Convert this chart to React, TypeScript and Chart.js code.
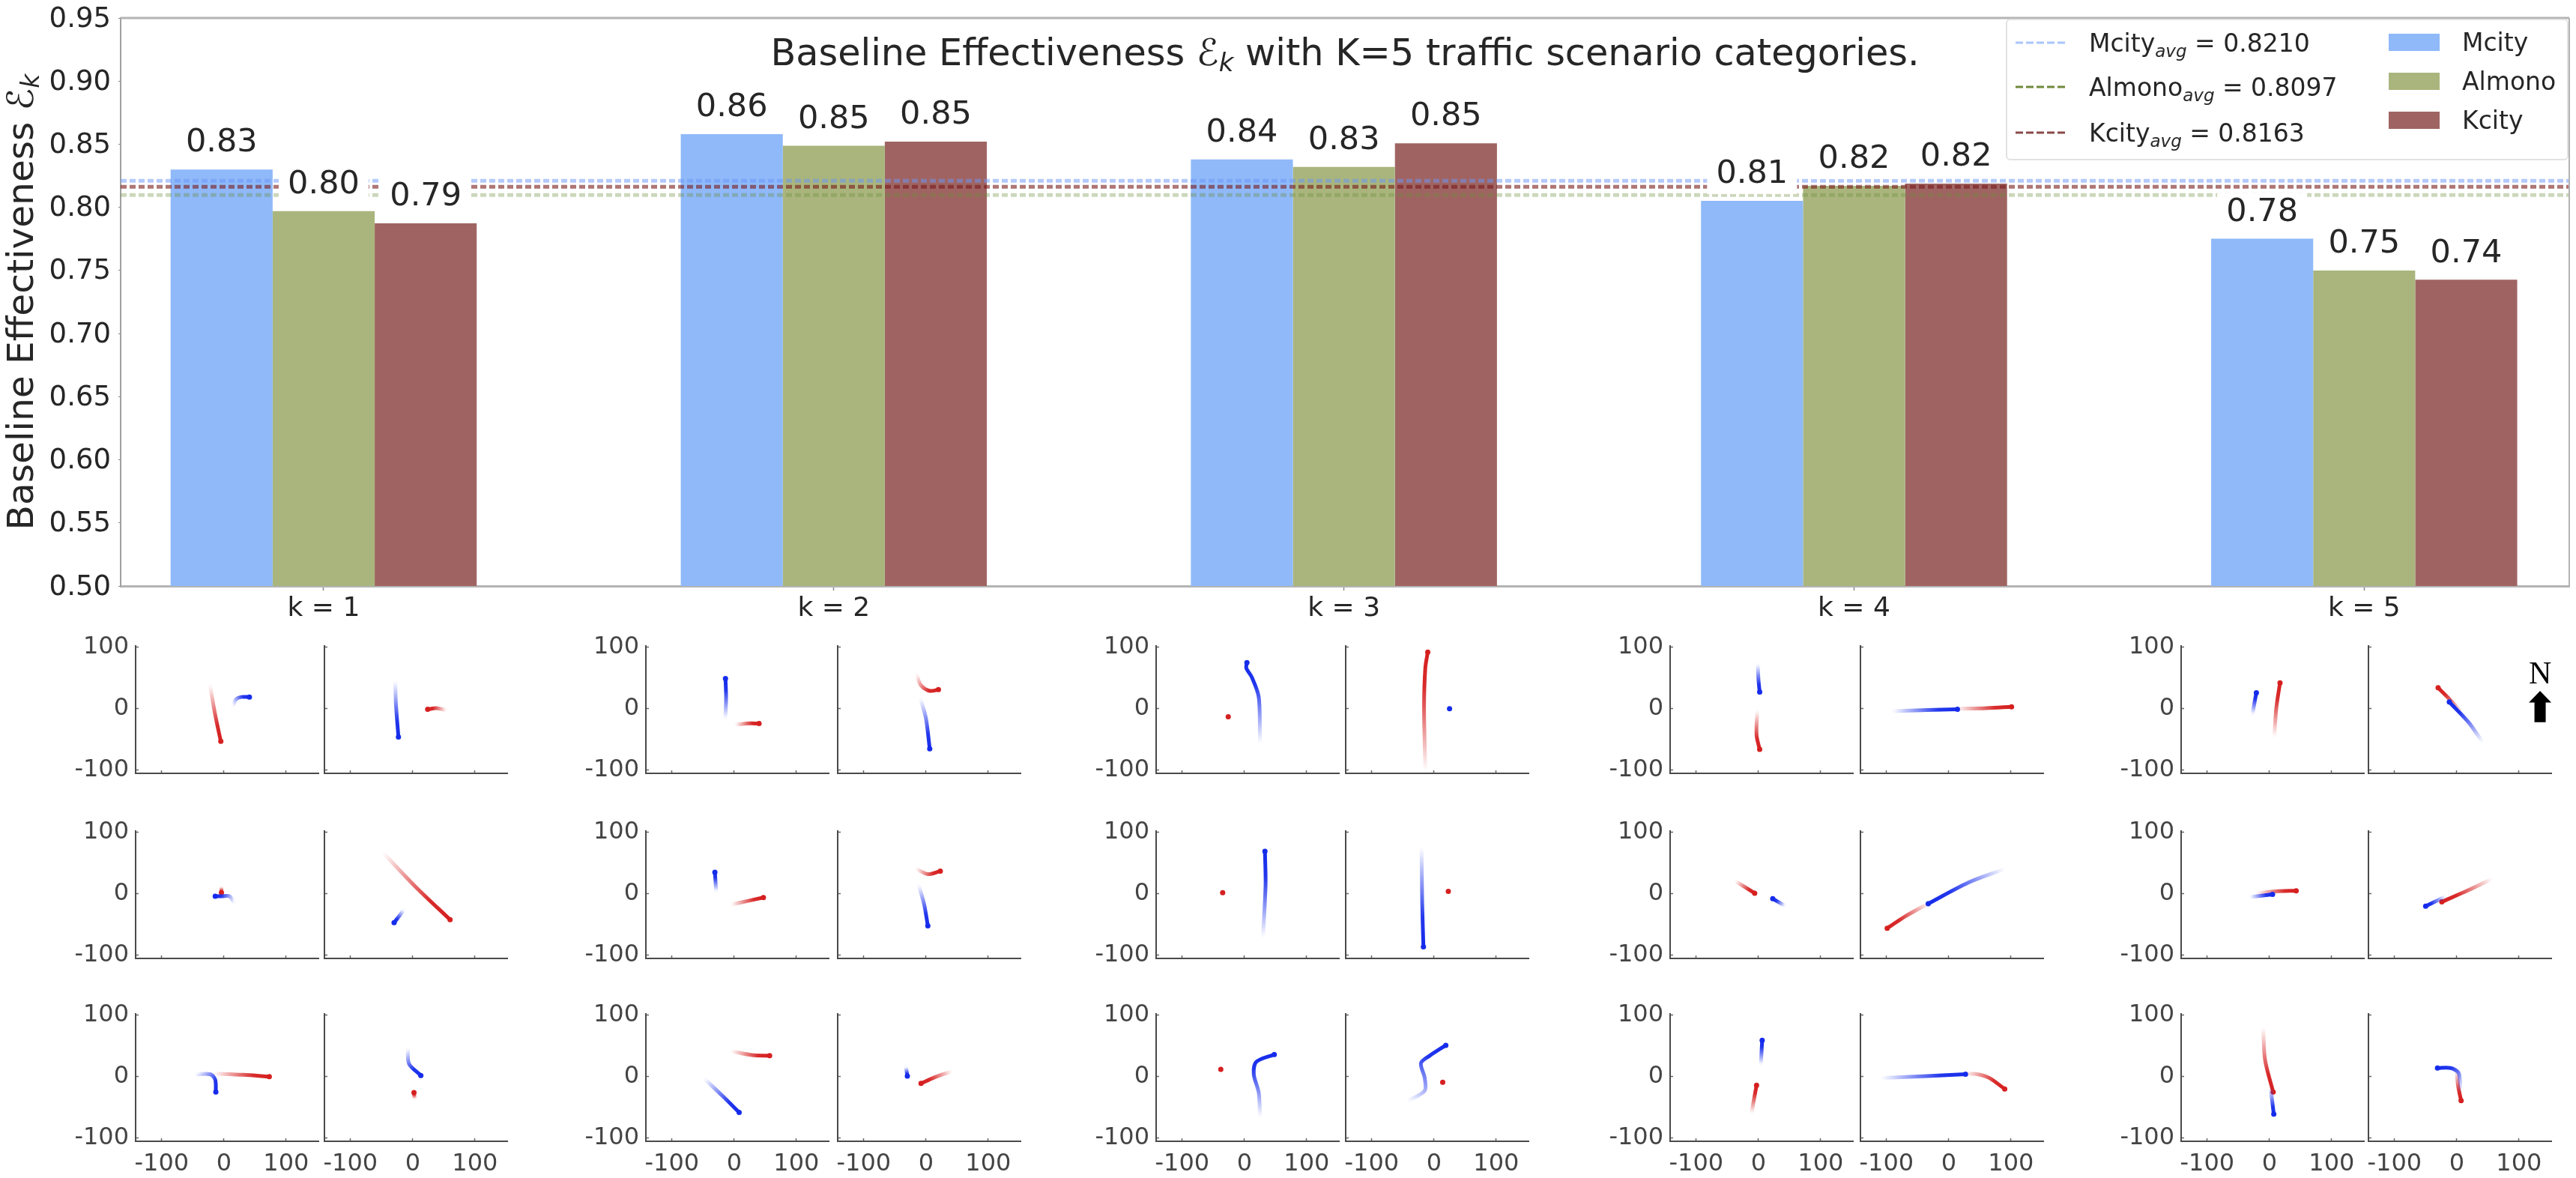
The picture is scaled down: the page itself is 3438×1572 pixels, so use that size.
import React, { useEffect, useRef } from "react";
import { Chart, registerables } from "chart.js";

Chart.register(...registerables);

const categories = ["k = 1", "k = 2", "k = 3", "k = 4", "k = 5"];
const mcity = [0.8299, 0.858, 0.838, 0.8052, 0.7751];
const almono = [0.797, 0.8488, 0.832, 0.817, 0.75];
const kcity = [0.7873, 0.852, 0.8507, 0.8188, 0.7426];
const mcityAvg = 0.821;
const almonoAvg = 0.8097;
const kcityAvg = 0.8163;
const yTicks = [0.5, 0.55, 0.6, 0.65, 0.7, 0.75, 0.8, 0.85, 0.9, 0.95];
const panelTicks = [-100, 0, 100];

type P = number[][];
// each panel: blue path, red path; every path runs from its faded start to its solid end
const row1: { b: P; r: P }[] = [
  { b: [[15, 6], [19, 15], [28, 19], [41, 19]], r: [[-22, 36], [-14, -10], [-5, -53]] },
  { b: [[-28, 42], [-27, 7], [-23, -46]], r: [[53, -2], [38, 1], [24, -1]] },
  { b: [[-14, -14], [-13, 19], [-14, 49]], r: [[3, -26], [20, -24], [40, -24]] },
  { b: [[-8, 14], [0, -16], [6, -65]], r: [[-15, 54], [-8, 38], [6, 29], [20, 31]] },
  { b: [[25, -52], [23, 19], [12, 51], [3, 66], [4, 75]], r: [[-26, -13]] },
  { b: [[25, 0]], r: [[-14, -96], [-16, 1], [-14, 66], [-10, 92]] },
  { b: [[-1, 71], [0, 48], [2, 27]], r: [[-2, -5], [-3, -43], [2, -66]] },
  { b: [[-88, -4], [-35, -2], [14, -1]], r: [[14, 0], [60, 1], [101, 3]] },
  { b: [[-27, -8], [-24, 10], [-21, 26]], r: [[8, -43], [11, 1], [17, 42]] },
  { b: [[40, -52], [19, -22], [-12, 11]], r: [[7, -5], [-14, 18], [-30, 34]] },
];
const row2: { b: P; r: P }[] = [
  { b: [[16, -13], [9, -4], [-3, -4], [-14, -4]], r: [[-4, 11], [-4, 2]] },
  { b: [[-15, -27], [-30, -47]], r: [[-45, 64], [4, 12], [60, -42]] },
  { b: [[-29, 5], [-31, 35]], r: [[-3, -17], [20, -12], [47, -6]] },
  { b: [[-11, 12], [-3, -17], [3, -52]], r: [[-15, 40], [3, 32], [23, 37]] },
  { b: [[30, -67], [34, 15], [33, 69]], r: [[-35, 2]] },
  { b: [[-20, 71], [-19, -14], [-17, -86]], r: [[23, 4]] },
  { b: [[42, -19], [23, -8]], r: [[-36, 20], [-6, 1]] },
  { b: [[86, 39], [31, 18], [-33, -16]], r: [[-33, -16], [-69, -36], [-99, -56]] },
  { b: [[-30, -5], [5, -1]], r: [[-19, 1], [10, 4], [43, 5]] },
  { b: [[-19, -5], [-50, -20]], r: [[54, 23], [19, 6], [-24, -13]] },
];
const row3: { b: P; r: P }[] = [
  { b: [[-44, 4], [-22, 4], [-14, -5], [-13, -25]], r: [[-14, 5], [31, 3], [73, 0]] },
  { b: [[-8, 44], [-6, 21], [13, 2]], r: [[3, -36], [2, -26]] },
  { b: [[-46, -5], [-18, -32], [8, -58]], r: [[-3, 41], [29, 35], [57, 34]] },
  { b: [[-32, 15], [-30, 1]], r: [[40, 8], [14, -1], [-8, -11]] },
  { b: [[25, -62], [23, -26], [15, 4], [19, 24], [48, 36]], r: [[-38, 12]] },
  { b: [[-39, -38], [-15, -23], [-15, -2], [-21, 22], [-7, 34], [19, 51]], r: [[14, -9]] },
  { b: [[4, 21], [6, 59]], r: [[-11, -58], [-3, -14]] },
  { b: [[-105, -2], [-35, 1], [27, 4]], r: [[27, 5], [46, 4], [65, -2], [90, -20]] },
  { b: [[2, -19], [7, -61]], r: [[-10, 77], [-7, 27], [6, -25]] },
  { b: [[6, -23], [3, 6], [-10, 14], [-31, 14]], r: [[0, 9], [2, -14], [7, -39]] },
];

const SANS = '"DejaVu Sans"';
const INK = "#262626";
const BLUE = "#8fb9f9";
const OLIVE = "#a9b57d";
const BROWN = "#9f6462";

const M_LEFT = 161, M_TOP = 24, M_RIGHT = 3429, M_BOTTOM = 782, M_H = 860;
const X_MIN = -0.398, X_MAX = 4.402;

const panelLefts = [181, 433, 861.5, 1117.5, 1543, 1796, 2229, 2483, 2911, 3161];
const PANEL_W = 244;
const rowTops = [862, 1109, 1353];
const PANEL_H = 170;
const PAD = { l: 80, r: 30, t: 24, b: 50 };

type Seg = { t: string; size: number; italic?: boolean; dy?: number; family?: string };
const fontOf = (s: Seg) => `${s.italic ? "italic " : ""}${s.size}px ${s.family || SANS}`;
function richWidth(ctx: CanvasRenderingContext2D, segs: Seg[]) {
  return segs.reduce((w, s) => {
    ctx.font = fontOf(s);
    return w + ctx.measureText(s.t).width;
  }, 0);
}
function drawRich(ctx: CanvasRenderingContext2D, segs: Seg[], x: number, y: number, color = INK) {
  ctx.save();
  ctx.fillStyle = color;
  ctx.textAlign = "left";
  ctx.textBaseline = "alphabetic";
  let cx = x;
  for (const s of segs) {
    ctx.font = fontOf(s);
    ctx.fillText(s.t, cx, y + (s.dy || 0));
    cx += ctx.measureText(s.t).width;
  }
  ctx.restore();
}

const mainOverlay = {
  id: "mainOverlay",
  afterDatasetsDraw(chart: any) {
    const { ctx, chartArea: a } = chart;
    ctx.save();
    ctx.font = `43px ${SANS}`;
    ctx.textAlign = "center";
    ctx.textBaseline = "middle";
    [mcity, almono, kcity].forEach((vals, di) => {
      const meta = chart.getDatasetMeta(di + 3);
      vals.forEach((v, i) => {
        const el = meta.data[i];
        const cy = el.y - 35;
        ctx.fillStyle = "#fff";
        ctx.fillRect(el.x - 60, cy - 26, 120, 52);
        ctx.fillStyle = INK;
        ctx.fillText(v.toFixed(2), el.x, cy);
      });
    });
    ctx.strokeStyle = "#b4b4b4";
    ctx.lineWidth = 3;
    ctx.beginPath();
    ctx.moveTo(a.left, a.top);
    ctx.lineTo(a.right, a.top);
    ctx.stroke();
    ctx.lineWidth = 2;
    ctx.beginPath();
    ctx.moveTo(a.right, a.top);
    ctx.lineTo(a.right, a.bottom);
    ctx.stroke();
    ctx.restore();

    const title: Seg[] = [
      { t: "Baseline Effectiveness ", size: 49.3 },
      { t: "\u2130", size: 49.3, italic: true },
      { t: "k", size: 34, italic: true, dy: 8 },
      { t: " with K=5 traffic scenario categories.", size: 49.3 },
    ];
    const tw = richWidth(ctx, title);
    drawRich(ctx, title, 1795 - tw / 2, 87, INK);

    const yt: Seg[] = [
      { t: "Baseline Effectiveness ", size: 48.6 },
      { t: "\u2130", size: 48.6, italic: true },
      { t: "k", size: 33, italic: true, dy: 8 },
    ];
    const yw = richWidth(ctx, yt);
    ctx.save();
    ctx.translate(44, (96 + 710) / 2);
    ctx.rotate(-Math.PI / 2);
    drawRich(ctx, yt, -yw / 2, 0, INK);
    ctx.restore();

    const lx = 2678, ly = 26, lw = 749, lh = 187;
    ctx.save();
    ctx.fillStyle = "rgba(255,255,255,0.95)";
    ctx.strokeStyle = "#e2e2e2";
    ctx.lineWidth = 2;
    ctx.beginPath();
    ctx.roundRect(lx, ly, lw, lh, 5);
    ctx.fill();
    ctx.stroke();
    const rows: [string, number, string, number][] = [
      ["Mcity", mcityAvg, "#a9c6fb", 57],
      ["Almono", almonoAvg, "#6f8a3a", 116],
      ["Kcity", kcityAvg, "#8a4a4a", 177],
    ];
    for (const [name, val, col, y] of rows) {
      ctx.strokeStyle = col;
      ctx.lineWidth = 3;
      ctx.setLineDash([10, 4]);
      ctx.beginPath();
      ctx.moveTo(2690, y);
      ctx.lineTo(2758, y);
      ctx.stroke();
      ctx.setLineDash([]);
      drawRich(ctx, [
        { t: name, size: 33 },
        { t: "avg", size: 23, italic: true, dy: 7 },
        { t: ` = ${val.toFixed(4)}`, size: 33 },
      ], 2788, y + 12, INK);
    }
    const patches: [string, string, number][] = [
      ["Mcity", BLUE, 45],
      ["Almono", OLIVE, 97],
      ["Kcity", BROWN, 149],
    ];
    for (const [name, col, y] of patches) {
      ctx.fillStyle = col;
      ctx.fillRect(3188, y, 68, 23);
      drawRich(ctx, [{ t: name, size: 33 }], 3286, y + 23, INK);
    }
    ctx.restore();
  },
};

const northArrow = {
  id: "northArrow",
  afterDatasetsDraw(chart: any) {
    const { ctx } = chart;
    const x = chart.scales.x.getPixelForValue(134);
    const y = (v: number) => chart.scales.y.getPixelForValue(v);
    const tip = y(29), base = y(10), end = y(-22);
    ctx.save();
    ctx.fillStyle = "#000";
    ctx.beginPath();
    ctx.moveTo(x, tip);
    ctx.lineTo(x + 15, base);
    ctx.lineTo(x + 7.5, base);
    ctx.lineTo(x + 7.5, end);
    ctx.lineTo(x - 7.5, end);
    ctx.lineTo(x - 7.5, base);
    ctx.lineTo(x - 15, base);
    ctx.closePath();
    ctx.fill();
    ctx.font = '42px "Liberation Serif"';
    ctx.textAlign = "center";
    ctx.textBaseline = "middle";
    ctx.fillText("N", x, y(54));
    ctx.restore();
  },
};

function fade(rgb: string, idx: number) {
  return (c: any) => {
    const chart = c.chart;
    const pts = chart.data.datasets[idx].data;
    if (!chart.chartArea || pts.length < 2) return `rgb(${rgb})`;
    const { x, y } = chart.scales;
    const a = pts[0], b = pts[pts.length - 1];
    const g = chart.ctx.createLinearGradient(
      x.getPixelForValue(a.x), y.getPixelForValue(a.y),
      x.getPixelForValue(b.x), y.getPixelForValue(b.y)
    );
    g.addColorStop(0, `rgba(${rgb},0.03)`);
    g.addColorStop(0.35, `rgba(${rgb},0.5)`);
    g.addColorStop(0.7, `rgba(${rgb},0.95)`);
    g.addColorStop(1, `rgb(${rgb})`);
    return g;
  };
}

function pathDataset(path: P, rgb: string, idx: number) {
  const data = path.map(([x, y]) => ({ x, y }));
  return {
    data,
    borderColor: fade(rgb, idx),
    borderWidth: 5,
    borderCapStyle: "round",
    tension: 0.3,
    pointRadius: data.map((_, i) => (i === data.length - 1 ? 3.5 : 0)),
    pointBackgroundColor: `rgb(${rgb})`,
    pointBorderWidth: 0,
  };
}

function makePanel(canvas: HTMLCanvasElement, panel: { b: P; r: P }, col: number, row: number) {
  const showY = col % 2 === 0;
  const showX = row === 2;
  const isArrow = col === 9 && row === 0;
  return new Chart(canvas, {
    type: "line",
    data: {
      datasets: [pathDataset(panel.b, "22,44,235", 0), pathDataset(panel.r, "214,32,32", 1)] as any,
    },
    plugins: isArrow ? [northArrow] : [],
    options: {
      animation: false,
      responsive: false,
      devicePixelRatio: 1,
      events: [],
      layout: { padding: { top: PAD.t, right: PAD.r, left: 0, bottom: 0 } },
      plugins: { legend: { display: false }, tooltip: { enabled: false }, title: { display: false } },
      scales: {
        x: {
          type: "linear",
          min: -142,
          max: 152,
          afterBuildTicks: (s: any) => { s.ticks = panelTicks.map((value) => ({ value })); },
          afterFit: (s: any) => { s.height = PAD.b; s.paddingLeft = 0; s.paddingRight = 0; },
          border: { color: "#4a4a4a", width: 2 },
          grid: { drawOnChartArea: false, drawTicks: true, tickLength: -4, tickColor: "#666", tickWidth: 1.5 },
          ticks: { display: showX, color: "#444", font: { family: SANS, size: 32 }, padding: 15, maxRotation: 0, autoSkip: false },
        },
        y: {
          type: "linear",
          min: -105,
          max: 102,
          afterBuildTicks: (s: any) => { s.ticks = panelTicks.map((value) => ({ value })); },
          afterFit: (s: any) => { s.width = PAD.l; s.paddingTop = 0; s.paddingBottom = 0; },
          border: { color: "#4a4a4a", width: 2 },
          grid: { drawOnChartArea: false, drawTicks: true, tickLength: -4, tickColor: "#666", tickWidth: 1.5 },
          ticks: { display: showY, color: "#444", font: { family: SANS, size: 32 }, padding: 13, autoSkip: false },
        },
      },
    } as any,
  });
}

function pairs(vals: number[]) {
  return vals.map((y, x) => ({ x, y }));
}
function avgLine(v: number, color: string) {
  return {
    type: "line",
    data: [{ x: X_MIN, y: v }, { x: X_MAX, y: v }],
    borderColor: color,
    borderWidth: 5,
    borderDash: [8, 4],
    pointRadius: 0,
    order: 0,
  };
}
function barSet(vals: number[], color: string) {
  return {
    type: "bar",
    data: pairs(vals),
    backgroundColor: color,
    borderWidth: 0,
    barPercentage: 1,
    categoryPercentage: 0.6,
    order: 1,
  };
}

export default function App() {
  const mainRef = useRef<HTMLCanvasElement | null>(null);
  const holderRef = useRef<HTMLDivElement | null>(null);

  useEffect(() => {
    document.body.style.margin = "0";
    document.body.style.background = "#fff";
    const charts: Chart[] = [];
    charts.push(new Chart(mainRef.current as HTMLCanvasElement, {
      type: "bar",
      data: {
        datasets: [
          avgLine(mcityAvg, "rgba(105,150,250,0.5)"),
          avgLine(kcityAvg, "rgba(120,25,25,0.6)"),
          avgLine(almonoAvg, "rgba(110,140,60,0.35)"),
          barSet(mcity, BLUE),
          barSet(almono, OLIVE),
          barSet(kcity, BROWN),
        ] as any,
      },
      plugins: [mainOverlay],
      options: {
        animation: false,
        responsive: false,
        devicePixelRatio: 1,
        events: [],
        layout: { padding: { top: M_TOP, right: 3438 - M_RIGHT, left: 0, bottom: 0 } },
        plugins: { legend: { display: false }, tooltip: { enabled: false }, title: { display: false } },
        scales: {
          x: {
            type: "linear",
            offset: false,
            min: X_MIN,
            max: X_MAX,
            afterBuildTicks: (s: any) => { s.ticks = categories.map((_, value) => ({ value })); },
            afterFit: (s: any) => { s.height = M_H - M_BOTTOM; s.paddingLeft = 0; s.paddingRight = 0; },
            border: { color: "#b4b4b4", width: 3 },
            grid: { offset: false, drawOnChartArea: false, tickLength: 6, tickColor: "#888", tickWidth: 1.5 },
            ticks: {
              color: INK,
              font: { family: SANS, size: 36 },
              padding: 3,
              maxRotation: 0,
              autoSkip: false,
              callback: (v: any) => categories[v],
            },
          },
          y: {
            type: "linear",
            min: 0.5,
            max: 0.95,
            afterBuildTicks: (s: any) => { s.ticks = yTicks.map((value) => ({ value })); },
            afterFit: (s: any) => { s.width = M_LEFT; s.paddingTop = 0; s.paddingBottom = 0; },
            border: { color: "#a0a0a0", width: 2 },
            grid: { drawOnChartArea: false, tickLength: 3, tickColor: "#888", tickWidth: 1 },
            ticks: {
              color: INK,
              font: { family: SANS, size: 37 },
              padding: 10,
              labelOffset: 2,
              autoSkip: false,
              callback: (v: any) => Number(v).toFixed(2),
            },
          },
        },
      } as any,
    }));

    const holder = holderRef.current as HTMLDivElement;
    [row1, row2, row3].forEach((row, r) => {
      row.forEach((panel, c) => {
        const cv = document.createElement("canvas");
        const w = PANEL_W + PAD.l + PAD.r;
        const h = PANEL_H + PAD.t + PAD.b;
        cv.width = w;
        cv.height = h;
        cv.style.cssText = `position:absolute;display:block;left:${panelLefts[c] - PAD.l}px;top:${rowTops[r] - PAD.t}px;width:${w}px;height:${h}px`;
        holder.appendChild(cv);
        charts.push(makePanel(cv, panel, c, r));
      });
    });
    return () => {
      charts.forEach((ch) => ch.destroy());
      holder.innerHTML = "";
    };
  }, []);

  return (
    <div style={{ position: "absolute", left: 0, top: 0, width: 3438, height: 1572, overflow: "hidden", background: "#fff" }}>
      <canvas ref={mainRef} width={3438} height={M_H} style={{ position: "absolute", left: 0, top: 0, display: "block" }} />
      <div ref={holderRef} />
    </div>
  );
}
